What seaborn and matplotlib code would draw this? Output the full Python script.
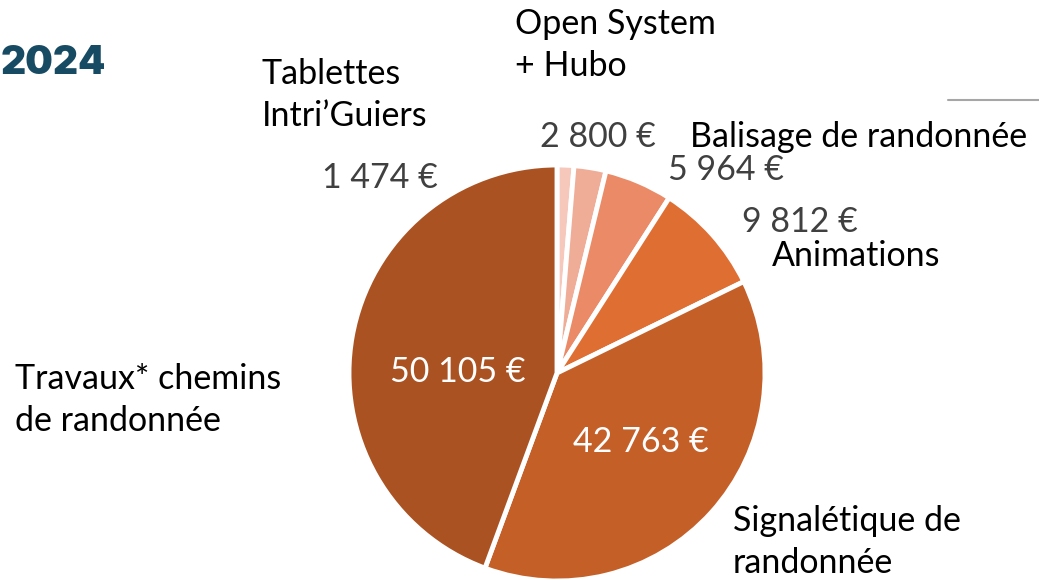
import matplotlib
matplotlib.use("Agg")
import matplotlib.pyplot as plt
import seaborn as sns

categories = ["Tablettes\nIntri\u2019Guiers", "Open System\n+ Hubo", "Balisage de randonnée",
              "Animations", "Signalétique de\nrandonnée", "Travaux* chemins\nde randonnée"]
values = [1474, 2800, 5964, 9812, 42763, 50105]
value_labels = ["1 474 €", "2 800 €", "5 964 €", "9 812 €", "42 763 €", "50 105 €"]
colors = ["#F5C8BB", "#EFAD97", "#EB8A66", "#DF6E33", "#C55F28", "#AB5222"]
title = "2024"

sns.set_theme(style="white")
plt.rcParams["font.family"] = ["Lato", "DejaVu Sans"]

W, H = 1039, 580
fig = plt.figure(figsize=(W / 100, H / 100), dpi=100)
cx, cy, r = 557, 373, 208
ax = fig.add_axes([(cx - r) / W, (H - cy - r) / H, 2 * r / W, 2 * r / H])
ax.pie(values, colors=colors, startangle=90, counterclock=False, radius=1,
       wedgeprops=dict(edgecolor="white", linewidth=3.5))
ax.set_xlim(-1, 1)
ax.set_ylim(-1, 1)
ax.set_aspect("equal")
ax.axis("off")


def px(x, y):
    return x / W, 1 - y / H


fs = 24.5
cat_color = "#000000"
val_color = "#404040"

# category labels (x, y pixel of left edge / center)
cat_pos = [(262, 95), (515, 45), (690, 137), (772, 256), (733, 542), (15, 400)]
for (x, y), lab in zip(cat_pos, categories):
    fig.text(*px(x, y), lab, ha="left", va="center", fontsize=fs, color=cat_color, linespacing=1.36)

# value labels
val_pos = [(322, 178), (540, 137), (668, 170), (742, 222), (573, 442), (390, 372)]
val_colors = [val_color, val_color, val_color, val_color, "white", "white"]
for (x, y), lab, c in zip(val_pos, value_labels, val_colors):
    fig.text(*px(x, y), lab, ha="left", va="center", fontsize=fs, color=c)

fig.text(*px(1, 64), title, ha="left", va="center", fontsize=28,
         fontweight="black", color="#174A63", family=["Inter", "DejaVu Sans"])

fig.add_artist(plt.Line2D([948 / W, 1.0], [1 - 100 / H, 1 - 100 / H], color="#A6A6A6", linewidth=1.5))

fig.savefig("out.png", dpi=100)
